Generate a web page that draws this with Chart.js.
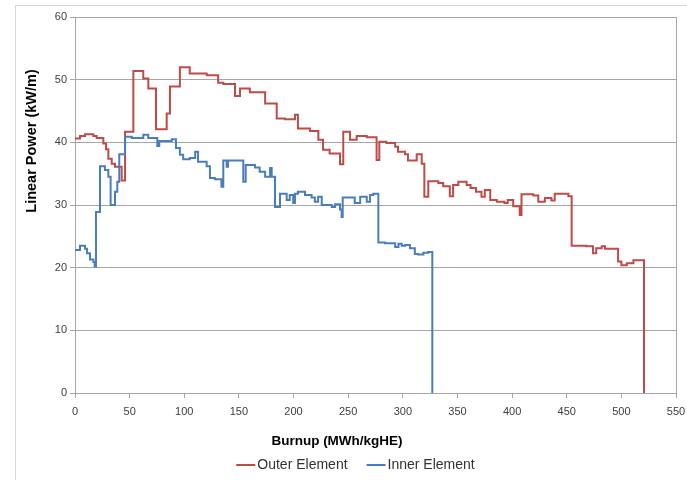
<!DOCTYPE html>
<html>
<head>
<meta charset="utf-8">
<script src="https://cdn.jsdelivr.net/npm/chart.js@4"></script>
<style>
  html, body { margin: 0; padding: 0; background: #fff; }
  #wrap { position: relative; width: 687px; height: 480px; overflow: hidden; }
  #frame { position: absolute; left: 15px; top: 5px; width: 690px; height: 520px;
           border: 1px solid #d6d6d6; box-sizing: border-box; }
  canvas { position: absolute; left: 0; top: 0; }
</style>
</head>
<body>
<div id="wrap">
  <div id="frame"></div>
  <canvas id="c" width="687" height="480"></canvas>
</div>
<script>
// Burnup (MWh/kgHE) at the start of each power step, and the step's linear power (kW/m).
// The last entry of each series closes the final step and drops to zero.
const outerBurnup = [0, 4.6, 9.2, 16.8, 19.8, 25.9, 28.4, 30.5, 33.6, 36.6, 42.7, 45.8, 53.4, 62.5, 67.1, 74.1,
  83.9, 86.9, 96, 105, 120.5, 131, 135.7, 146.4, 151, 160, 174, 184.6, 192, 201.3, 204, 215, 222.7, 227, 233,
  242.5, 245.5, 251.7, 257.8, 267, 276, 278.5, 285, 293, 295.6, 302, 304.7, 312.7, 317.3, 319.7, 323.3, 332.5,
  337, 343, 346, 350.8, 358.4, 362, 367, 372, 375, 380, 386, 393, 396, 401, 407, 408.6, 419.4, 424, 430, 436,
  439, 451.5, 454.5, 468, 474, 477, 482, 485, 497, 500, 505, 511, 520.7];
const outerPower = [40.6, 41.0, 41.3, 41.0, 40.7, 39.8, 38.9, 37.4, 36.6, 36.1, 33.9, 41.7, 51.4, 50.2, 48.6, 42.1,
  44.6, 48.9, 52.0, 51.0, 50.7, 49.5, 49.3, 47.4, 48.6, 48.0, 46.2, 43.8, 43.7, 44.4, 42.2, 41.8, 40.4, 38.8, 38.2,
  36.5, 41.7, 40.4, 41.0, 40.8, 37.2, 40.1, 39.9, 39.3, 38.5, 38.1, 37.1, 38.1, 36.6, 31.3, 33.8, 33.5,
  33.0, 31.4, 33.2, 33.7, 33.2, 32.7, 32.1, 31.3, 32.4, 30.8, 30.5, 30.3, 30.8, 29.8, 28.4, 31.7, 31.5, 30.5, 31.1, 30.7,
  31.8, 31.4, 23.5, 23.4, 22.3, 23.1, 23.4, 23.0, 21.0, 20.4, 20.7, 21.2, 0];

const innerBurnup = [0, 4.6, 9.2, 11, 13.7, 16.8, 18, 19.2, 22.9, 27.4, 30.5, 32.6, 36.6, 38.7, 40.5, 45.8, 52,
  62.5, 67, 75.3, 77.1, 88.5, 92.4, 96, 99, 105, 110, 112.6, 120.5, 123.5, 128, 134, 135.7, 138.8, 140, 154,
  156.2, 164.7, 169, 174, 178.5, 180, 183, 187.6, 193.7, 196.5, 199.7, 201.3, 204, 210.5, 216.5, 219.5, 222.5,
  225.8, 235, 238, 242.5, 244, 245, 256, 261, 267, 270, 273, 277.6, 283.7, 293, 296, 299, 302, 306.5, 311, 314,
  318.8, 323.3, 327];
const innerPower = [22.8, 23.5, 23.0, 22.3, 21.3, 20.9, 20.2, 28.9, 36.2, 35.6, 34.5, 30.0, 32.1, 33.7, 38.1, 40.9, 40.7,
  41.2, 40.7, 39.4, 40.2, 40.5, 39.1, 38.0, 37.3, 37.5, 38.5, 36.9, 36.2, 34.3, 34.1, 32.9, 37.1, 36.1, 37.1, 33.7,
  36.4, 36.0, 35.3, 34.5, 35.9, 34.5, 29.7, 31.8, 30.8, 31.6, 30.3, 31.8, 32.1, 31.6, 31.2, 30.5, 31.3,
  30.0, 29.7, 30.1, 29.3, 28.1, 31.2, 30.3, 31.3, 30.5, 31.6, 31.8, 24.0, 23.9, 23.3, 23.8, 23.5, 23.6, 23.1, 22.2, 22.1,
  22.4, 22.5, 0];

const seriesNames = ['Outer Element', 'Inner Element'];
const seriesColors = ['#BE4B48', '#4A7EBB'];
const xTitle = 'Burnup (MWh/kgHE)';
const yTitle = 'Linear Power (kW/m)';

const gridColor = '#a6a6a6';
const labelColor = '#404040';
const fontFamily = '"Liberation Sans", Arial, sans-serif';

function toPoints(xs, ys) {
  return xs.map((x, i) => ({ x: x, y: ys[i] }));
}

// Axis titles and the legend row, drawn below and beside the plot
const titlesPlugin = {
  id: 'titles',
  afterDraw(chart) {
    const ctx = chart.ctx;
    ctx.save();
    ctx.fillStyle = '#000';
    ctx.textAlign = 'center';
    ctx.textBaseline = 'middle';
    ctx.font = 'bold 13.5px ' + fontFamily;
    ctx.fillText(xTitle, 337, 441);
    ctx.font = 'bold 14.5px ' + fontFamily;
    ctx.translate(32, 141);
    ctx.rotate(-Math.PI / 2);
    ctx.fillText(yTitle, 0, 0);
    ctx.restore();

    ctx.save();
    ctx.font = '14px ' + fontFamily;
    ctx.textBaseline = 'middle';
    ctx.textAlign = 'left';
    const lineLen = 19, gap = 2, between = 19, yRow = 465;
    const widths = seriesNames.map(n => ctx.measureText(n).width);
    let total = 0;
    widths.forEach((w, i) => { total += lineLen + gap + w + (i ? between : 0); });
    let x = 355.5 - total / 2;
    seriesNames.forEach((name, i) => {
      ctx.strokeStyle = seriesColors[i];
      ctx.lineWidth = 2;
      ctx.beginPath();
      ctx.moveTo(x, yRow);
      ctx.lineTo(x + lineLen, yRow);
      ctx.stroke();
      ctx.fillStyle = '#333';
      ctx.fillText(name, x + lineLen + gap, yRow);
      x += lineLen + gap + widths[i] + between;
    });
    ctx.restore();
  }
};

new Chart(document.getElementById('c'), {
  type: 'line',
  data: {
    datasets: [
      {
        label: seriesNames[0],
        data: toPoints(outerBurnup, outerPower),
        borderColor: seriesColors[0],
        borderWidth: 2,
        pointRadius: 0,
        stepped: 'before',
        fill: false,
        order: 1
      },
      {
        label: seriesNames[1],
        data: toPoints(innerBurnup, innerPower),
        borderColor: seriesColors[1],
        borderWidth: 2,
        pointRadius: 0,
        stepped: 'before',
        fill: false,
        order: 0
      }
    ]
  },
  options: {
    responsive: false,
    animation: false,
    devicePixelRatio: 1,
    layout: { padding: { left: 0, top: 17, right: 11, bottom: 0 } },
    plugins: { legend: { display: false }, tooltip: { enabled: false } },
    scales: {
      x: {
        type: 'linear',
        min: 0,
        max: 550,
        afterFit(scale) {
          scale.height = 87;
          scale.paddingLeft = 0;
          scale.paddingRight = 0;
        },
        ticks: { stepSize: 50, color: labelColor, padding: 7, maxRotation: 0,
                 font: { family: fontFamily, size: 11 } },
        grid: {
          color: c => (c.tick && c.tick.value === 550 ? gridColor : 'rgba(0,0,0,0)'),
          tickColor: gridColor,
          tickLength: 5,
          lineWidth: 1
        },
        border: { display: true, color: gridColor, width: 1 }
      },
      y: {
        min: 0,
        max: 60,
        afterFit(scale) { scale.width = 75; },
        ticks: { stepSize: 10, color: labelColor, padding: 3,
                 font: { family: fontFamily, size: 11 } },
        grid: { color: gridColor, tickColor: gridColor, tickLength: 5, lineWidth: 1 },
        border: { display: true, color: gridColor, width: 1 }
      }
    }
  },
  plugins: [titlesPlugin]
});
</script>
</body>
</html>
